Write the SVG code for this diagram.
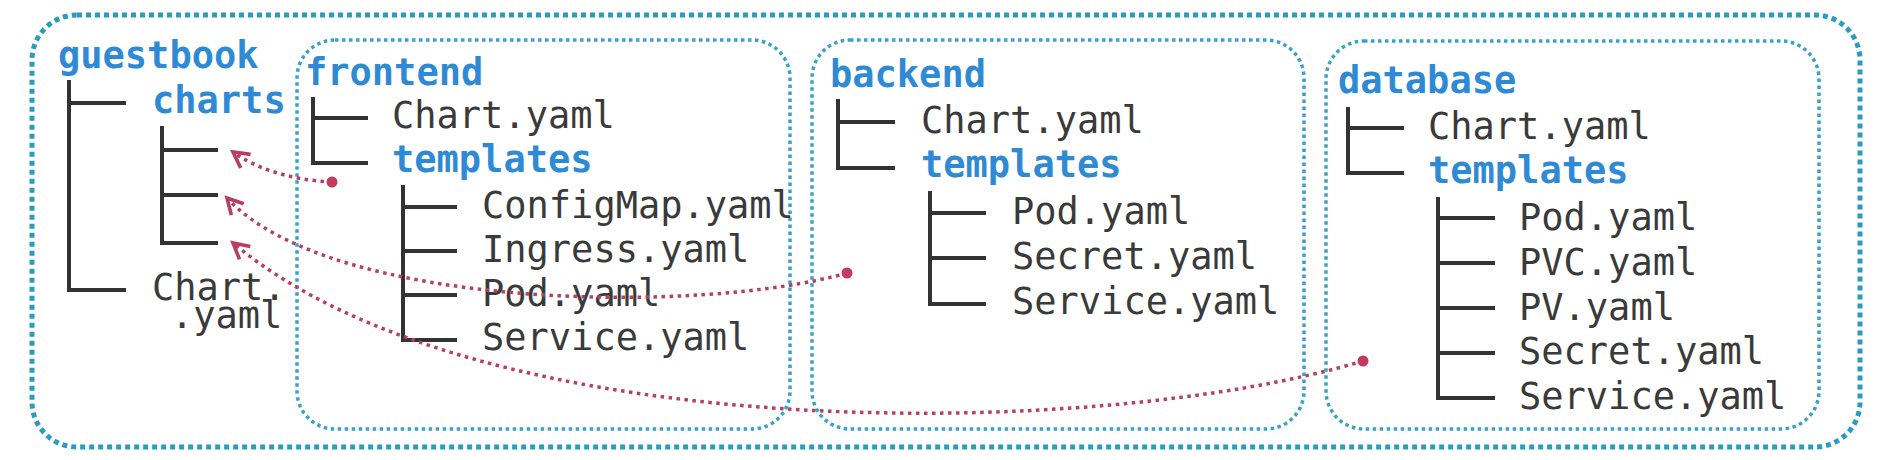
<svg xmlns="http://www.w3.org/2000/svg" width="1895" height="460" viewBox="0 0 1895 460">
  <style>
    .box-outer { fill: none; stroke: #2b9cc0; stroke-width: 5; stroke-dasharray: 5 4; }
    .box { fill: none; stroke: #3aa2c6; stroke-width: 3.5; stroke-dasharray: 3.5 3.5; }
    .dir { font-family: "DejaVu Sans Mono", "Liberation Mono", monospace; font-weight: bold; font-size: 37px; fill: #2f8ad6; }
    .file { font-family: "DejaVu Sans Mono", "Liberation Mono", monospace; font-size: 37px; fill: #3a3a3a; }
    .tree { fill: none; stroke: #333333; stroke-width: 4; }
    .link { fill: none; stroke: #b73f5f; stroke-width: 3.5; stroke-dasharray: 3.5 4.5; }
    .dot { fill: #c23a5c; }
  </style>
  <defs>
    <marker id="arrow" markerUnits="userSpaceOnUse" markerWidth="24" markerHeight="24" viewBox="-16 -10 20 20" refX="0" refY="0" orient="auto">
      <path d="M-13,-7 L0,0 L-13,7" fill="none" stroke="#b73f5f" stroke-width="3"/>
    </marker>
  </defs>
  <rect width="1895" height="460" fill="#ffffff"/>

  <g id="guestbook">
    <rect class="box-outer" x="32" y="15" width="1828" height="432" rx="45" ry="45"/>
    <text class="dir" x="58" y="68">guestbook</text>
    <path class="tree" d="M69,80 V290 H126 M69,103 H126"/>
    <text class="dir" x="152" y="113">charts</text>
    <path class="tree" d="M162,126 V243 H218 M162,150 H218 M162,195 H218"/>
    <text class="file" x="152" y="300">Chart.</text>
    <text class="file" x="171" y="328">.yaml</text>
  </g>

  <g id="frontend">
    <rect class="box" x="297" y="40" width="493" height="389" rx="38" ry="38"/>
    <text class="dir" x="305" y="85">frontend</text>
    <path class="tree" d="M313,97 V163 H368 M313,118 H368"/>
    <text class="file" x="392" y="128">Chart.yaml</text>
    <text class="dir" x="392" y="172">templates</text>
    <path class="tree" d="M403,185 V340 H457 M403,207 H457 M403,251 H457 M403,295 H457"/>
    <text class="file" x="482" y="218">ConfigMap.yaml</text>
    <text class="file" x="482" y="262">Ingress.yaml</text>
    <text class="file" x="482" y="306">Pod.yaml</text>
    <text class="file" x="482" y="350">Service.yaml</text>
  </g>

  <g id="backend">
    <rect class="box" x="812" y="40" width="492" height="389" rx="38" ry="38"/>
    <text class="dir" x="830" y="87">backend</text>
    <path class="tree" d="M838,99 V168 H895 M838,122 H895"/>
    <text class="file" x="921" y="133">Chart.yaml</text>
    <text class="dir" x="921" y="177">templates</text>
    <path class="tree" d="M930,191 V304 H986 M930,213 H986 M930,258 H986"/>
    <text class="file" x="1012" y="224">Pod.yaml</text>
    <text class="file" x="1012" y="269">Secret.yaml</text>
    <text class="file" x="1012" y="314">Service.yaml</text>
  </g>

  <g id="database">
    <rect class="box" x="1326" y="41" width="493" height="388" rx="38" ry="38"/>
    <text class="dir" x="1338" y="93">database</text>
    <path class="tree" d="M1348,107 V173 H1404 M1348,128 H1404"/>
    <text class="file" x="1428" y="139">Chart.yaml</text>
    <text class="dir" x="1428" y="183">templates</text>
    <path class="tree" d="M1438,197 V398 H1495 M1438,218 H1495 M1438,263 H1495 M1438,308 H1495 M1438,353 H1495"/>
    <text class="file" x="1519" y="230">Pod.yaml</text>
    <text class="file" x="1519" y="275">PVC.yaml</text>
    <text class="file" x="1519" y="320">PV.yaml</text>
    <text class="file" x="1519" y="364">Secret.yaml</text>
    <text class="file" x="1519" y="409">Service.yaml</text>
  </g>

  <g id="connectors">
    <path class="link" d="M332,182 C290,180 255,168 233,152" marker-end="url(#arrow)"/>
    <path class="link" d="M847,273 C700,315 330,310 227,198" marker-end="url(#arrow)"/>
    <path class="link" d="M1363,361 C1100,440 480,450 233,243" marker-end="url(#arrow)"/>
    <circle class="dot" cx="332" cy="182" r="5.5"/>
    <circle class="dot" cx="847" cy="273" r="5.5"/>
    <circle class="dot" cx="1363" cy="361" r="5.5"/>
  </g>
</svg>
